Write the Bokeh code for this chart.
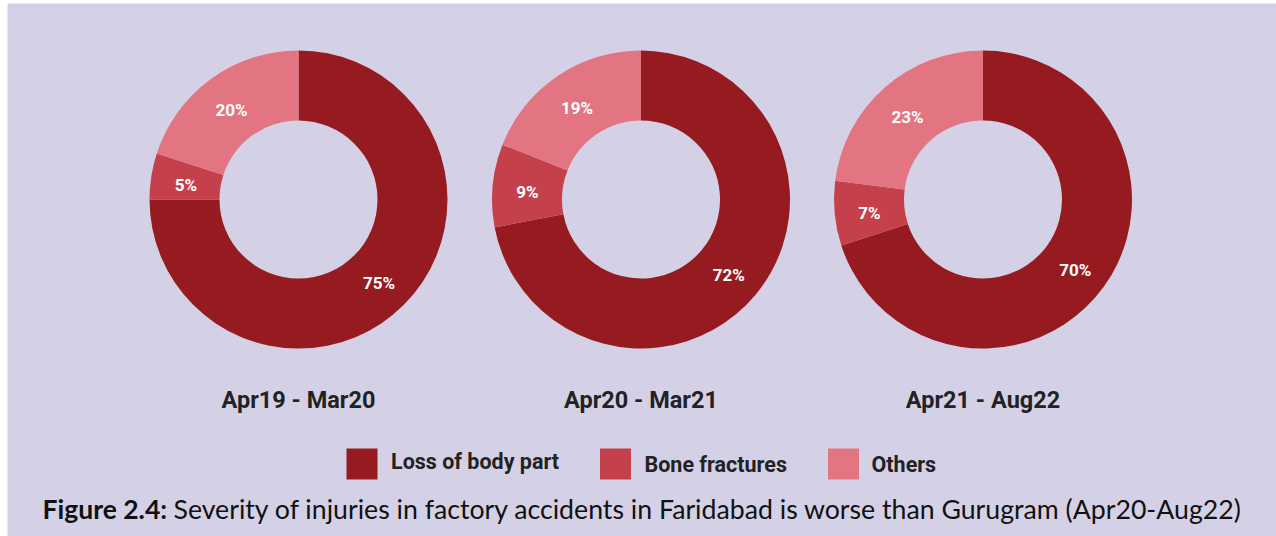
import math
from bokeh.plotting import figure
from bokeh.models import Range1d, ColumnDataSource
from bokeh.core.properties import value
from bokeh.embed import file_html
from bokeh.resources import INLINE

# ---- data ----
periods = ["Apr19 - Mar20", "Apr20 - Mar21", "Apr21 - Aug22"]
categories = ["Loss of body part", "Bone fractures", "Others"]
loss_of_body_part = [75, 72, 70]
bone_fractures = [5, 9, 7]
others = [20, 19, 23]
colors = ["#961b20", "#c4414b", "#e37582"]
caption_bold = "Figure 2.4:"
caption_text = "Severity of injuries in factory accidents in Faridabad is worse than Gurugram (Apr20-Aug22)"

# ---- layout (page pixel coordinates) ----
W, H = 1276, 536
LEFT, TOP = 7, 3
BG = "#d4d1e7"
TXT = "#222222"
centers_x = [298, 640.5, 982.5]
center_y = 199
r_out, r_in = 149, 79
label_r = 114
period_y = 399
legend_y = 463.5
legend_square_x = [361.5, 615, 843]
legend_text_x = [390.5, 644, 871]
legend_text_y = [461, 464, 464]
caption_y = 508


def px(x):
    return x


def py(y):
    return H - y


p = figure(width=W, height=H, x_range=Range1d(LEFT, W), y_range=Range1d(0, H - TOP),
           output_backend="svg", toolbar_location=None,
           min_border_left=LEFT, min_border_top=TOP, min_border_right=0, min_border_bottom=0,
           x_axis_location=None, y_axis_location=None)
p.grid.visible = False
p.outline_line_color = None
p.background_fill_color = BG
p.border_fill_color = "#ffffff"

series = [loss_of_body_part, bone_fractures, others]

wx, wy, ws, we, wc = [], [], [], [], []
lx, ly, lt = [], [], []
for i, cx in enumerate(centers_x):
    vals = [s[i] for s in series]
    total = sum(vals)
    cum = 0.0
    for j, v in enumerate(vals):
        a0 = math.pi / 2 - 2 * math.pi * cum / total
        a1 = math.pi / 2 - 2 * math.pi * (cum + v) / total
        wx.append(px(cx)); wy.append(py(center_y))
        ws.append(a0); we.append(a1); wc.append(colors[j])
        mid = (a0 + a1) / 2
        lx.append(px(cx) + label_r * math.cos(mid))
        ly.append(py(center_y) + label_r * math.sin(mid) - 3)
        lt.append(f"{v}%")
        cum += v

src = ColumnDataSource(dict(x=wx, y=wy, s=ws, e=we, c=wc))
p.annular_wedge(x="x", y="y", inner_radius=r_in, outer_radius=r_out,
                start_angle="s", end_angle="e", direction="clock",
                fill_color="c", line_color=None, source=src)

p.text(x=lx, y=ly, text=lt, text_color="white", text_font=value("Roboto"),
       text_font_style="bold", text_font_size="17px", text_align="center",
       text_baseline="middle")

# period labels
p.text(x=[px(c) for c in centers_x], y=[py(period_y)] * 3, text=periods,
       text_color=TXT, text_font=value("Roboto"), text_font_style="bold",
       text_font_size="23.5px", text_align="center", text_baseline="middle")

# legend
p.rect(x=[px(x) for x in legend_square_x], y=[py(legend_y)] * 3, width=31, height=31,
       fill_color=colors, line_color=None)
p.text(x=[px(x) for x in legend_text_x], y=[py(b) for b in legend_text_y],
       text=categories, text_color=TXT, text_font=value("Roboto"),
       text_font_style="bold", text_font_size="21.5px", text_align="left",
       text_baseline="middle")

# caption
p.text(x=[px(42)], y=[py(caption_y)], text=[caption_bold], text_color="#111111",
       text_font=value("Lato"), text_font_style="bold", text_font_size="26.5px",
       text_align="left", text_baseline="middle")
p.text(x=[px(173)], y=[py(caption_y)], text=[caption_text], text_color="#111111",
       text_font=value("Lato"), text_font_size="26.7px",
       text_align="left", text_baseline="middle")

open("out.html", "w").write(file_html(p, INLINE))
